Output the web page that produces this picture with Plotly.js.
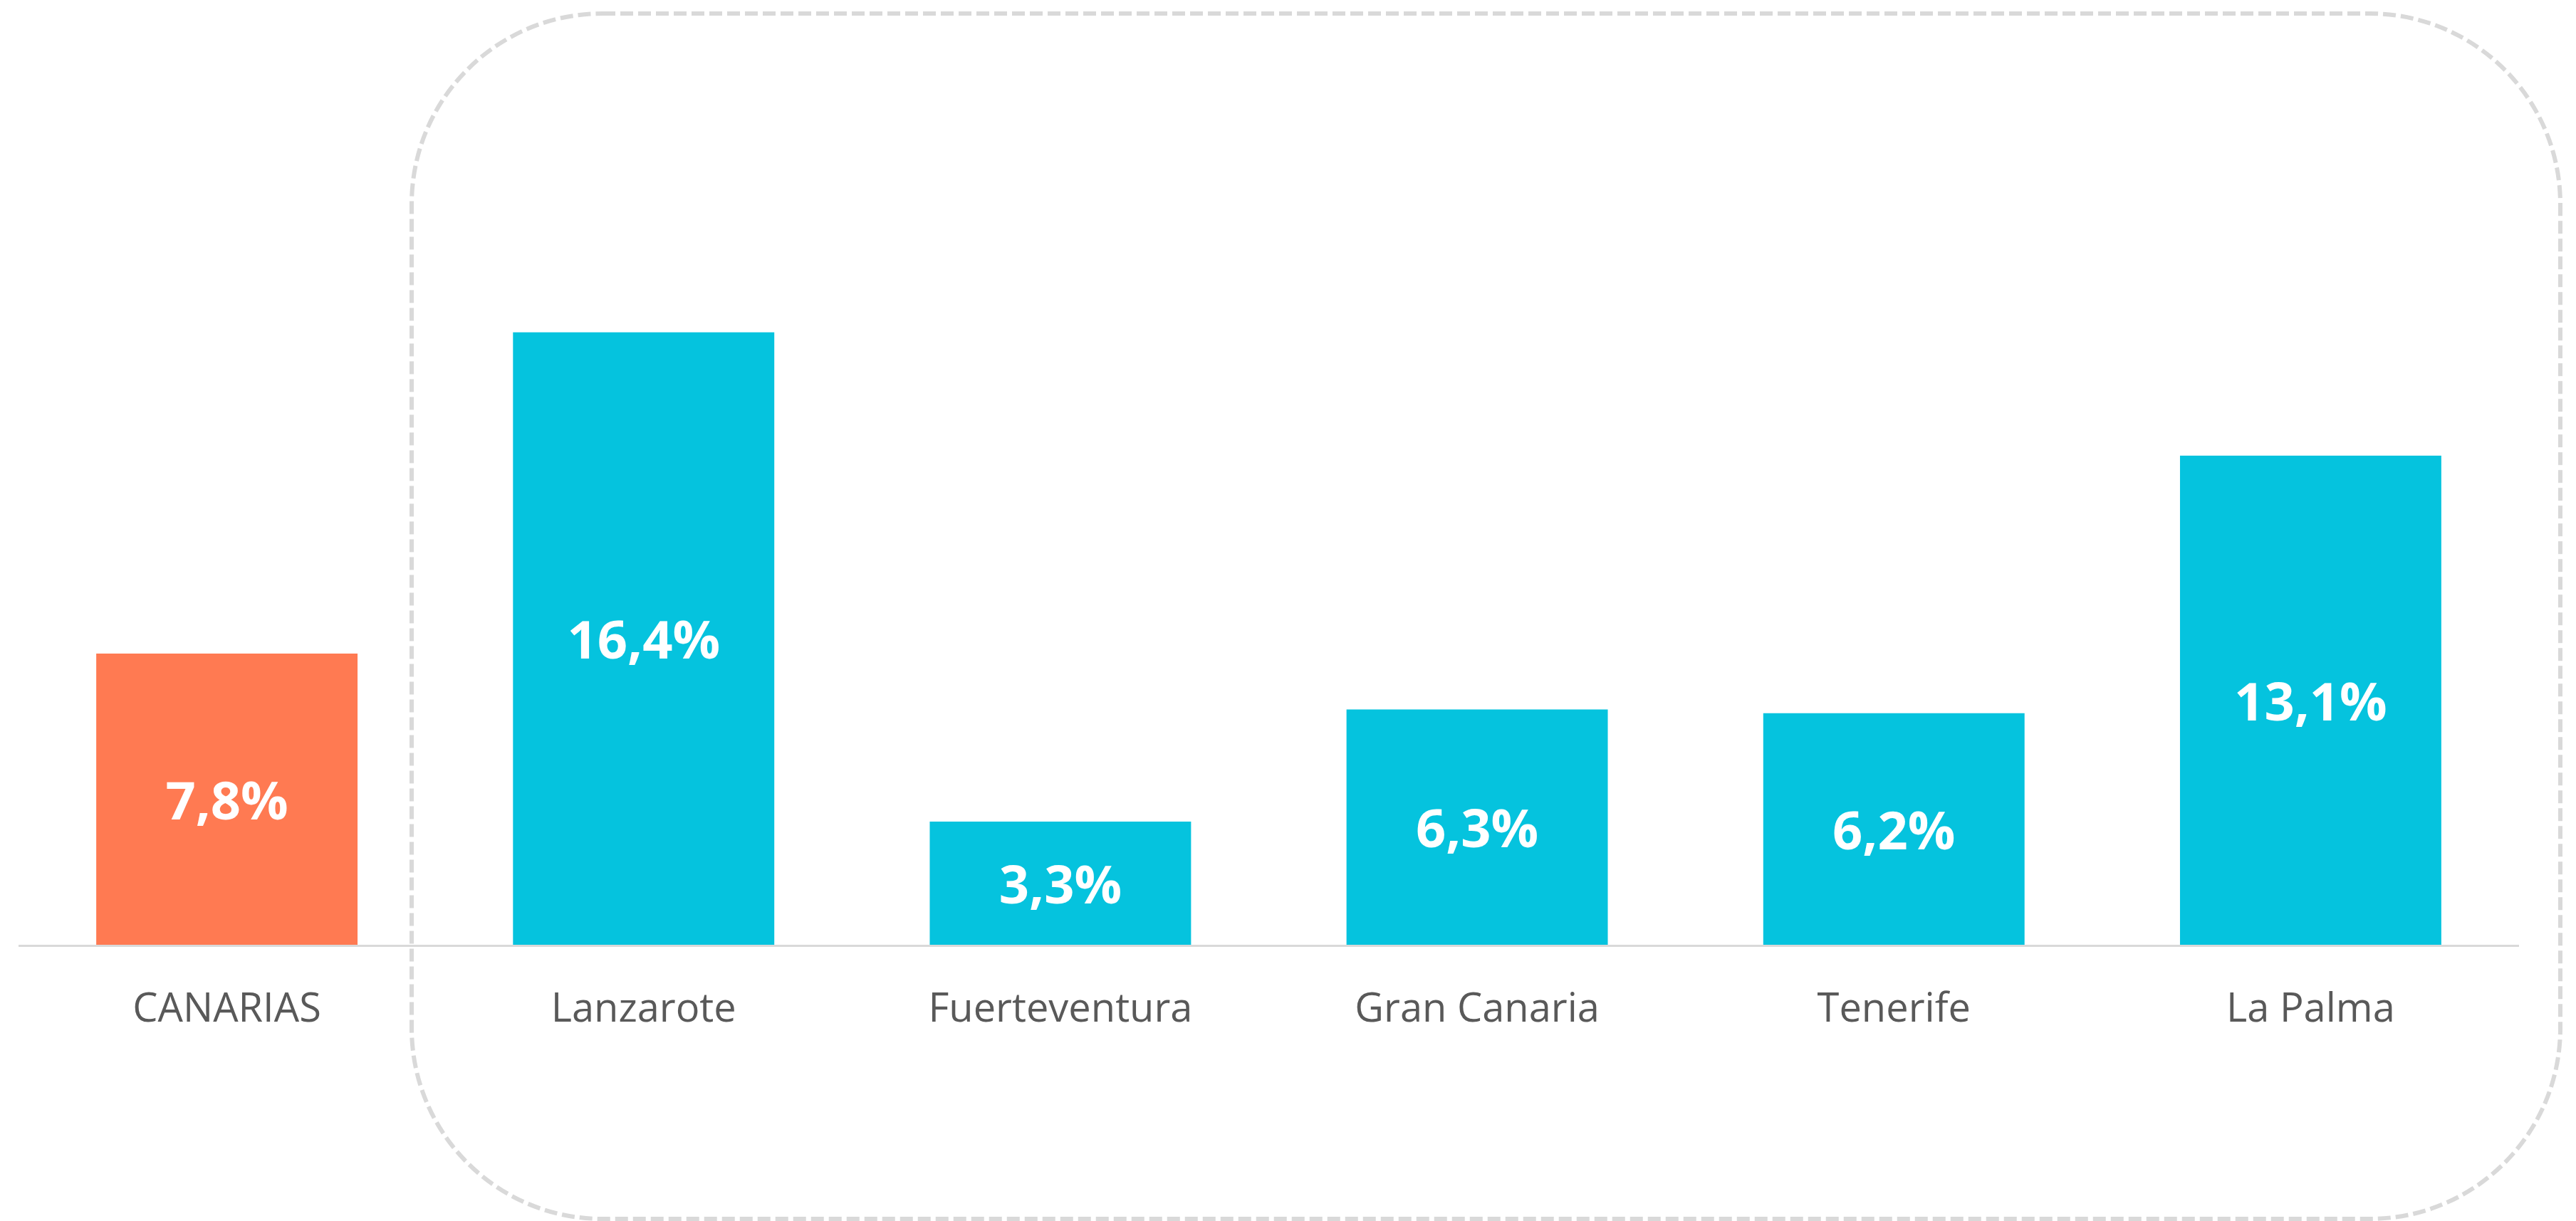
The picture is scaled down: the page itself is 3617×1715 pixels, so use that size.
<!DOCTYPE html>
<html>
<head>
<meta charset="utf-8">
<script src="https://cdn.plot.ly/plotly-3.0.1.min.js"></script>
<style>html,body{margin:0;padding:0;background:#fff;}#chart{width:3617px;height:1715px;}</style>
</head>
<body>
<div id="chart"></div>
<script>
// Data
const categories = ["CANARIAS", "Lanzarote", "Fuerteventura", "Gran Canaria", "Tenerife", "La Palma"];
const values = [7.8, 16.4, 3.3, 6.3, 6.2, 13.1];
const labels = ["7,8%", "16,4%", "3,3%", "6,3%", "6,2%", "13,1%"];
const barColors = ["#FF7A52", "#05C3DE", "#05C3DE", "#05C3DE", "#05C3DE", "#05C3DE"];

// Layout geometry (pixels)
const W = 3617, H = 1715;
const mL = 26, mR = 80, mT = 0, mB = 388;
const pw = W - mL - mR, ph = H - mT - mB;
function px(x){ return ((x - mL) / pw).toFixed(5); }
function py(y){ return ((H - mB - y) / ph).toFixed(5); }

// rounded dashed box
const bx0 = 578, bx1 = 3595, by0 = 19, by1 = 1712, r = 268, k = 0.5523 * r;
const path = [
  "M", px(bx0 + r), py(by0),
  "L", px(bx1 - r), py(by0),
  "C", px(bx1 - r + k), py(by0) + "," + px(bx1) + "," + py(by0 + r - k) + "," + px(bx1) + "," + py(by0 + r),
  "L", px(bx1), py(by1 - r),
  "C", px(bx1), py(by1 - r + k) + "," + px(bx1 - r + k) + "," + py(by1) + "," + px(bx1 - r) + "," + py(by1),
  "L", px(bx0 + r), py(by1),
  "C", px(bx0 + r - k), py(by1) + "," + px(bx0) + "," + py(by1 - r + k) + "," + px(bx0) + "," + py(by1 - r),
  "L", px(bx0), py(by0 + r),
  "C", px(bx0), py(by0 + r - k) + "," + px(bx0 + r - k) + "," + py(by0) + "," + px(bx0 + r) + "," + py(by0),
  "Z"
];
let d = "";
for (let i = 0; i < path.length; i++) {
  const t = path[i];
  if (/^[A-Z]$/.test(t)) { d += (d ? " " : "") + t + " "; }
  else { d += t + (path[i+1] && !/^[A-Z]$/.test(path[i+1]) ? "," : ""); }
}

const trace = {
  type: "bar",
  x: categories,
  y: values,
  text: labels,
  texttemplate: "%{text}",
  textposition: "inside",
  insidetextanchor: "middle",
  textangle: 0,
  constraintext: "none",
  textfont: {family: "Open Sans", size: 74, color: "#FFFFFF", weight: "bold"},
  marker: {color: barColors, line: {width: 0}},
  hoverinfo: "none"
};

const layout = {
  width: W, height: H,
  margin: {l: mL, r: mR, t: mT, b: mB, pad: 0},
  paper_bgcolor: "#FFFFFF",
  plot_bgcolor: "rgba(0,0,0,0)",
  bargap: 0.373,
  showlegend: false,
  xaxis: {
    type: "category",
    range: [-0.5, 5.5],
    showline: true, linecolor: "#D9D9D9", linewidth: 3,
    showgrid: false, zeroline: false, ticks: "",
    ticklabelstandoff: 38,
    tickfont: {family: "Open Sans", size: 56, color: "#595959"}
  },
  yaxis: {
    range: [0, 25.3],
    visible: false, showgrid: false, zeroline: false
  },
  shapes: [{
    type: "path", xref: "paper", yref: "paper",
    path: d,
    line: {color: "#D9D9D9", width: 6, dash: "18px,7px"},
    fillcolor: "rgba(0,0,0,0)",
    layer: "below"
  }]
};

Plotly.newPlot("chart", [trace], layout, {staticPlot: true, displayModeBar: false});
</script>
</body>
</html>
